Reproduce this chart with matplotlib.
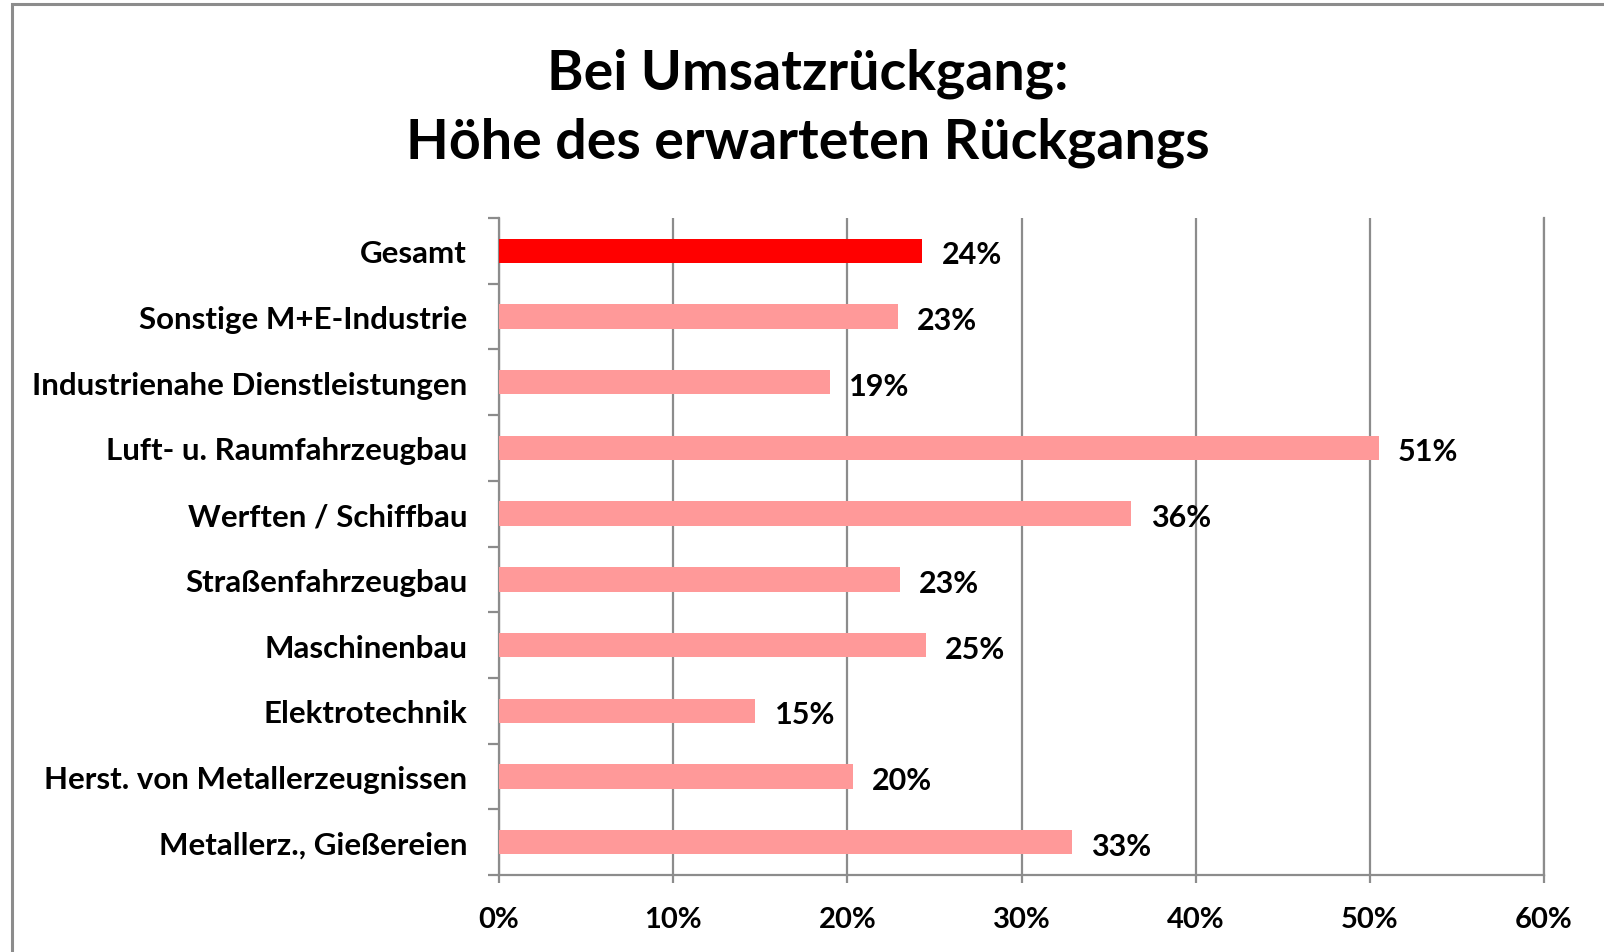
import matplotlib
matplotlib.use("Agg")
import matplotlib.pyplot as plt
from matplotlib.ticker import FixedLocator, PercentFormatter
from matplotlib.patches import Rectangle

plt.rcParams['font.family'] = ['Lato', 'DejaVu Sans']

# data, top to bottom as in the chart
categories = ["Gesamt", "Sonstige M+E-Industrie", "Industrienahe Dienstleistungen",
              "Luft- u. Raumfahrzeugbau", "Werften / Schiffbau", "Straßenfahrzeugbau",
              "Maschinenbau", "Elektrotechnik", "Herst. von Metallerzeugnissen",
              "Metallerz., Gießereien"]
values = [24.3, 22.9, 19.0, 50.5, 36.3, 23.0, 24.5, 14.7, 20.3, 32.9]
labels = ["24%", "23%", "19%", "51%", "36%", "23%", "25%", "15%", "20%", "33%"]
xticks = [0, 10, 20, 30, 40, 50, 60]

red = "#ff0000"
pink = "#ff9999"
grey = "#8c8c8c"

fig = plt.figure(figsize=(16.04, 9.53), dpi=100)

# outer frame (only top and left visible in the crop)
fig.patches.append(Rectangle((11.5 / 1604, -0.1), 1.2, (953 - 5) / 953 + 0.1,
                             transform=fig.transFigure, fill=False,
                             edgecolor=grey, linewidth=2.2))

ax = fig.add_axes([499 / 1604, 77 / 953, 1045 / 1604, 657 / 953])

n = len(categories)
ypos = list(range(n - 1, -1, -1))
colors = [red] + [pink] * (n - 1)
ax.barh(ypos, values, height=0.37, color=colors, zorder=3)

for y, v, lab in zip(ypos, values, labels):
    ax.annotate(lab, (v, y), xytext=(14, -2.5), textcoords="offset points",
                ha="left", va="center", fontsize=22, fontweight="bold")

ax.set_xlim(0, 60)
ax.set_ylim(-0.5, n - 0.5)
ax.xaxis.set_major_locator(FixedLocator(xticks))
ax.xaxis.set_major_formatter(PercentFormatter(decimals=0))
ax.grid(axis="x", color=grey, linewidth=1.6, zorder=0)

ax.set_yticks(ypos)
ax.set_yticklabels(categories, fontsize=22.5, fontweight="bold")
ax.set_yticks([i - 0.5 for i in range(n + 1)], minor=True)
ax.tick_params(axis="y", which="major", length=0, pad=23)
ax.tick_params(axis="y", which="minor", length=8, width=1.6, color=grey)
ax.tick_params(axis="x", length=6, width=1.6, color=grey, pad=16, labelsize=21)
for t in ax.get_xticklabels():
    t.set_fontweight("bold")

for s in ["top"]:
    ax.spines[s].set_visible(False)
for s in ["left", "bottom", "right"]:
    ax.spines[s].set_color(grey)
    ax.spines[s].set_linewidth(1.6)

fig.text(808 / 1604, 1 - 74 / 953, "Bei Umsatzrückgang:", ha="center", va="center",
         fontsize=40, fontweight="bold")
fig.text(808 / 1604, 1 - 143 / 953, "Höhe des erwarteten Rückgangs", ha="center",
         va="center", fontsize=40, fontweight="bold")

fig.savefig("out.png", dpi=100)
